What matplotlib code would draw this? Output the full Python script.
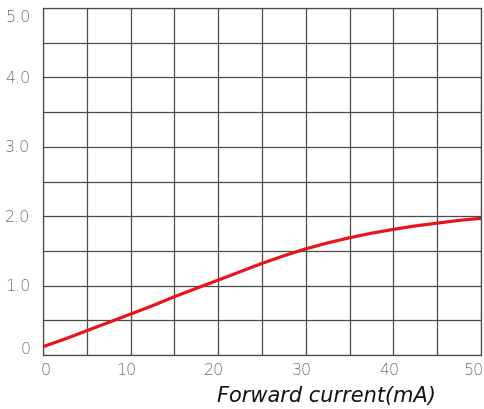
import matplotlib
matplotlib.use("Agg")
import matplotlib.pyplot as plt
import numpy as np

current_ma = [0, 2.5, 5, 7.5, 10, 12.5, 15, 17.5, 20, 22.5, 25, 27.5, 30, 32.5, 35, 37.5, 40, 42.5, 45, 47.5, 50]
output_val = [0.12, 0.23, 0.35, 0.47, 0.59, 0.71, 0.84, 0.96, 1.08, 1.20, 1.32, 1.43, 1.53, 1.615, 1.69, 1.755, 1.81, 1.86, 1.90, 1.94, 1.97]
x_ticks = [0, 10, 20, 30, 40, 50]
x_labels = ["0", "10", "20", "30", "40", "50"]
y_ticks = [0, 1, 2, 3, 4, 5]
y_labels = ["0", "1.0", "2.0", "3.0", "4.0", "5.0"]

fig = plt.figure(figsize=(4.85, 4.10), dpi=100)
ax = fig.add_axes([43/485, 54/410, 438/485, 347/410])
ax.set_xlim(0, 50)
ax.set_ylim(0, 5)
ax.set_xticks(np.arange(0, 51, 5))
ax.set_yticks(np.arange(0, 5.01, 0.5))
ax.grid(True, color="#4a4a4a", linewidth=0.9)
ax.set_axisbelow(True)
for s in ax.spines.values():
    s.set_color("#4a4a4a")
    s.set_linewidth(0.9)

ax.plot(current_ma, output_val, color="#e8141c", linewidth=2.3, solid_capstyle="round",
        solid_joinstyle="round")

ax.set_xticklabels([])
ax.set_yticklabels([])
ax.tick_params(length=0)

tc = "#707070"
fs = 11.5
for v, lab in zip(x_ticks, x_labels):
    ha = "center"
    dx = 2 if v == 0 else -3
    if v == 50:
        ha = "right"; dx = 2
    ax.annotate(lab, (v, 0), xycoords="data", xytext=(dx, -5), textcoords="offset points",
                ha=ha, va="top", fontsize=fs, color=tc, family="DejaVu Sans",
                fontweight="light")
for v, lab in zip(y_ticks, y_labels):
    dy = 0
    if v == 0:
        dy = 5
    if v == 5:
        dy = -6
    ax.annotate(lab, (0, v), xycoords="data", xytext=(-9, dy), textcoords="offset points",
                ha="right", va="center", fontsize=fs, color=tc, family="DejaVu Sans",
                fontweight="light")

fig.text(326/485, 1 - 396/410, "Forward current(mA)", ha="center", va="center",
         fontsize=15, color="#111111", family="DejaVu Sans", style="italic")

fig.savefig("out.png", dpi=100)
